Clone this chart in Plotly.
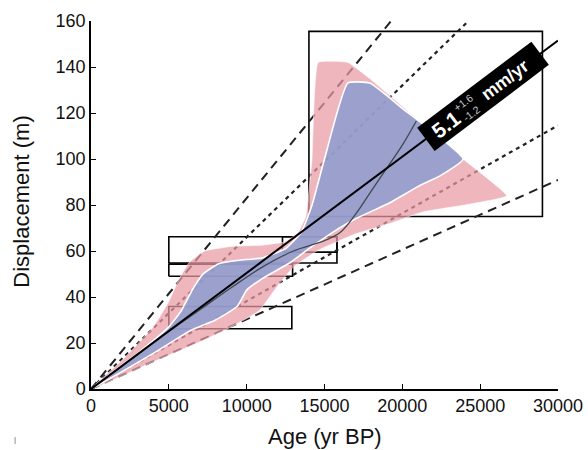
import plotly.graph_objects as go

# ---------------- data ----------------
age_ticks = [0, 5000, 10000, 15000, 20000, 25000, 30000]
disp_ticks = [0, 20, 40, 60, 80, 100, 120, 140, 160]

# slip-rate lines through the origin (mm/yr)
rate_best = 5.05
rates_dotted = [6.6, 3.82]
rates_dashed = [8.3, 3.03]

# age / displacement boxes
box_x0 = [14000, 5000, 5000, 12300, 5000]
box_x1 = [29000, 15800, 12950, 15800, 12900]
box_y0 = [75, 54.8, 49, 59.5, 26.2]
box_y1 = [155.5, 66.2, 54.3, 66.2, 35.9]

# outer (pink) envelope
pink_x = [0, 2000, 4000, 5000, 5600, 6300, 7300, 9000, 11000, 12500, 13300, 13800, 14200, 14600,
          16500, 17900, 20500, 23900, 26700,
          24000, 21300, 19200, 17000, 14500, 13000, 12000, 10800, 9000, 7000, 4000, 0]
pink_y = [0, 12.5, 27, 38, 47, 55, 60, 62, 62.5, 64, 68, 75, 100, 142,
          142, 135, 120, 100, 84,
          80, 77, 72, 67.5, 60, 53, 45, 34, 27, 20.5, 11.8, 0]

# inner (blue) envelope
blue_x = [0, 3000, 5000, 5800, 6500, 7200, 8200, 9500, 11000, 12500, 13500, 14200, 15000, 16500,
          17900, 20000, 23900,
          22500, 21000, 19200, 17000, 15500, 14000, 12800, 11000, 10000, 9400, 8000, 6400, 4000, 0]
blue_y = [0, 15.5, 27, 34, 43, 50, 54.5, 56, 57, 61, 68, 80, 100, 133,
          133, 122, 100,
          93, 88, 81, 74, 68, 61, 55, 48, 43, 36, 30, 25.5, 15.5, 0]

# median displacement history
med_x = [0, 2500, 5000, 7000, 9000, 11000, 13000, 15000, 16000, 17000, 18000, 19000, 20000, 20900]
med_y = [0, 12.5, 25, 34.5, 44, 53, 60, 64.5, 68, 76, 86, 96, 106, 116.5]

# ---------------- figure ----------------
fig = go.Figure()

# boxes
for a, b, c, d in zip(box_x0, box_x1, box_y0, box_y1):
    fig.add_trace(go.Scatter(x=[a, b, b, a, a], y=[c, c, d, d, c], mode="lines",
                             line=dict(color="black", width=1.6), hoverinfo="skip"))

def rate_line(s, dash, width, color="#111"):
    xe = min(30000, 160 / (s / 1000))
    fig.add_trace(go.Scatter(x=[0, xe], y=[0, s / 1000 * xe], mode="lines",
                             line=dict(color=color, width=width, dash=dash), hoverinfo="skip"))

for s in rates_dashed:
    rate_line(s, "9px,6px", 2.0, "#222")
for s in rates_dotted:
    rate_line(s, "4px,4px", 2.2, "#222")

# envelopes
fig.add_trace(go.Scatter(x=pink_x, y=pink_y, mode="lines", fill="toself",
                         fillcolor="rgba(233,155,163,0.72)", line=dict(color="rgba(255,255,255,0.5)", width=1),
                         line_shape="spline", line_smoothing=0.35, hoverinfo="skip"))
fig.add_trace(go.Scatter(x=blue_x, y=blue_y, mode="lines", fill="toself",
                         fillcolor="rgba(140,156,208,0.85)", line=dict(color="white", width=1.6),
                         line_shape="spline", line_smoothing=0.45, hoverinfo="skip"))

# median curve
fig.add_trace(go.Scatter(x=med_x, y=med_y, mode="lines", line=dict(color="#3c4a50", width=1.3),
                         line_shape="spline", hoverinfo="skip"))
# best-fit rate
rate_line(rate_best, "solid", 2.0, "black")

# rate label (rotated black tag along the best-fit line)
ANG = -37
xc = 25213
def along(d):
    x = xc + d * 51.35
    return x, rate_best / 1000 * x

x0, y0 = along(0)
fig.add_annotation(x=x0, y=y0, xref="x", yref="y", text="&nbsp;", showarrow=False,
                   textangle=ANG, bgcolor="black", width=140, height=26, font=dict(size=12))
x1, y1 = along(-47)
fig.add_annotation(x=x1, y=y1, xref="x", yref="y", text="<b>5.1</b>", showarrow=False,
                   textangle=ANG, font=dict(color="white", size=21, family="Liberation Sans"))
x2, y2 = along(-20)
fig.add_annotation(x=x2, y=y2, xref="x", yref="y", text="+1.6<br>-1.2", showarrow=False,
                   textangle=ANG, font=dict(color="#c8c8c8", size=10.5, family="Liberation Sans"))
x3, y3 = along(27)
fig.add_annotation(x=x3, y=y3, xref="x", yref="y", text="<b>mm/yr</b>", showarrow=False,
                   textangle=ANG, font=dict(color="white", size=18, family="Liberation Sans"))

# axis titles
fig.add_annotation(x=0.501, y=-0.1304, xref="paper", yref="paper", text="Age (yr BP)",
                   showarrow=False, yanchor="middle", xanchor="center",
                   font=dict(size=22, color="#111"))
fig.add_annotation(x=-0.1478, y=0.509, xref="paper", yref="paper", text="Displacement (m)",
                   showarrow=False, yanchor="middle", xanchor="center", textangle=-90,
                   font=dict(size=22, color="#111"))
fig.add_annotation(x=-0.169, y=-0.155, xref="paper", yref="paper", text="|", showarrow=False,
                   font=dict(size=8, color="#555"))

fig.update_layout(
    width=588, height=450, margin=dict(l=91, r=30, t=21, b=61, autoexpand=False),
    plot_bgcolor="white", paper_bgcolor="white", showlegend=False,
    font=dict(family="Liberation Sans, Arial, sans-serif", color="#111", size=18),
)
fig.update_xaxes(range=[0, 30000], tickvals=age_ticks, ticktext=[str(v) for v in age_ticks],
                 showgrid=False, zeroline=False, showline=True, linecolor="black", linewidth=1.5,
                 ticks="inside", ticklen=5, tickcolor="black", tickfont=dict(size=18),
                 automargin=False)
fig.update_yaxes(range=[0, 160], tickvals=disp_ticks, showgrid=False, zeroline=False,
                 showline=True, linecolor="black", linewidth=1.5, ticks="inside", ticklen=5,
                 tickcolor="black", tickfont=dict(size=18), automargin=False)

fig.write_html("out.html")
